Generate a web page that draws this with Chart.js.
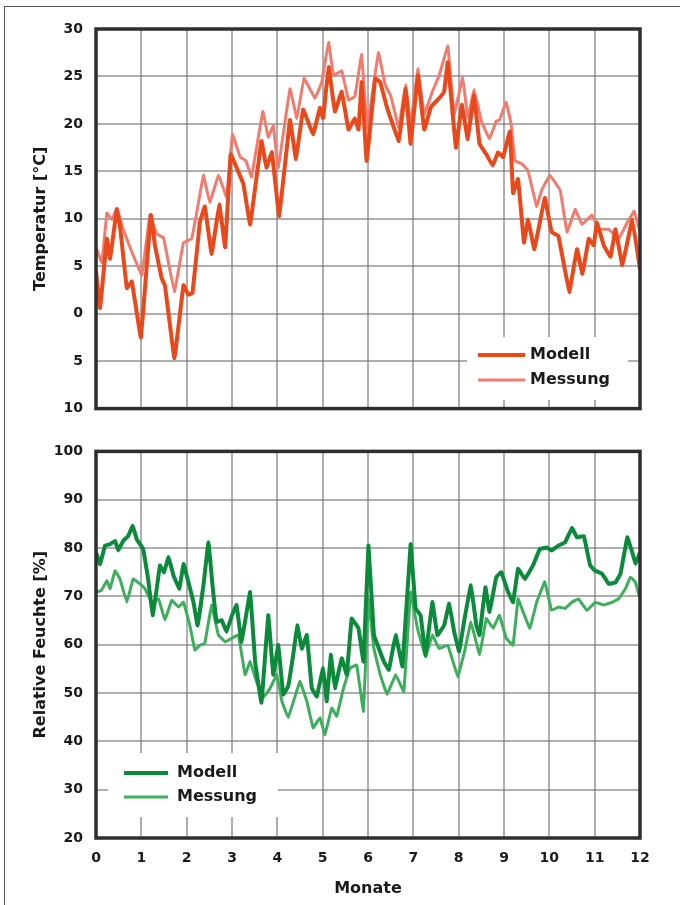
<!DOCTYPE html>
<html>
<head>
<meta charset="utf-8">
<script src="https://cdn.jsdelivr.net/npm/chart.js@4.4.1/dist/chart.umd.min.js"></script>
<style>
    html, body { margin: 0; padding: 0; background: #fff; }
    #page { position: relative; width: 680px; height: 905px; overflow: hidden; }
    #frame { position: absolute; left: 4px; top: 6px; right: -4px; bottom: -4px;
             border-top: 1.5px solid #555; border-left: 1.5px solid #555; }
    canvas { position: absolute; left: 0; }
    #tempChart { top: 0; }
    #humChart { top: 430px; }
</style>
</head>
<body>
<div id="page">
    <div id="frame"></div>
    <canvas id="tempChart" width="680" height="430"></canvas>
    <canvas id="humChart" width="680" height="475"></canvas>
</div>
<script>
// Temperatur - Modell
const tempModellMonths = [0, 0.09, 0.24, 0.31, 0.46, 0.53, 0.68, 0.79, 0.99, 1.21, 1.30, 1.45, 1.52, 1.73, 1.93, 2.04, 2.13, 2.29, 2.40, 2.55, 2.72, 2.85, 2.97, 3.10, 3.25, 3.40, 3.65, 3.76, 3.88, 4.04, 4.28, 4.41, 4.57, 4.79, 4.94, 5.01, 5.13, 5.27, 5.42, 5.57, 5.71, 5.79, 5.86, 5.97, 6.16, 6.27, 6.42, 6.68, 6.83, 6.94, 7.10, 7.24, 7.39, 7.57, 7.68, 7.76, 7.94, 8.07, 8.20, 8.34, 8.46, 8.61, 8.75, 8.87, 8.98, 9.13, 9.20, 9.31, 9.44, 9.53, 9.67, 9.90, 10.05, 10.20, 10.44, 10.61, 10.73, 10.87, 10.98, 11.05, 11.20, 11.35, 11.46, 11.61, 11.83, 12.0];
const tempModell = [4.5, 0.6, 7.9, 5.8, 11.0, 9.2, 2.7, 3.4, -2.5, 10.4, 7.2, 3.7, 3.0, -4.7, 3.0, 2.0, 2.2, 9.6, 11.3, 6.3, 11.5, 7.0, 16.8, 15.4, 13.7, 9.4, 18.2, 15.4, 17.0, 10.3, 20.4, 16.3, 21.5, 18.9, 21.7, 20.6, 26.0, 21.3, 23.4, 19.4, 20.6, 19.4, 24.4, 16.1, 24.8, 24.4, 21.7, 18.2, 23.7, 17.9, 25.1, 19.4, 21.8, 22.7, 23.4, 26.5, 17.5, 22.0, 18.4, 23.0, 17.9, 16.8, 15.6, 17.0, 16.5, 19.2, 12.7, 14.2, 7.5, 9.9, 6.8, 12.2, 8.6, 8.2, 2.3, 6.8, 4.2, 7.9, 7.2, 9.6, 7.2, 6.0, 8.9, 5.1, 9.9, 4.7];

// Temperatur - Messung
const tempMessungMonths = [0, 0.13, 0.24, 0.35, 0.46, 0.60, 0.79, 1.01, 1.19, 1.34, 1.49, 1.73, 1.93, 2.11, 2.22, 2.37, 2.51, 2.70, 2.88, 3.01, 3.18, 3.31, 3.43, 3.68, 3.80, 3.91, 4.02, 4.28, 4.43, 4.59, 4.83, 4.98, 5.13, 5.24, 5.42, 5.57, 5.71, 5.86, 5.98, 6.23, 6.38, 6.50, 6.68, 6.83, 6.94, 7.10, 7.24, 7.42, 7.57, 7.76, 7.90, 8.09, 8.20, 8.34, 8.50, 8.68, 8.83, 8.90, 9.05, 9.16, 9.24, 9.39, 9.53, 9.72, 9.83, 10.01, 10.24, 10.39, 10.57, 10.72, 10.94, 11.09, 11.31, 11.53, 11.72, 11.87, 12.0];
const tempMessung = [7.0, 5.4, 10.6, 9.9, 11.1, 8.9, 6.5, 4.1, 10.4, 8.4, 8.0, 2.3, 7.5, 7.9, 10.6, 14.6, 11.7, 14.6, 12.3, 18.9, 16.5, 16.1, 14.4, 21.3, 18.6, 19.8, 15.4, 23.7, 20.6, 24.8, 22.7, 24.4, 28.6, 25.1, 25.6, 22.5, 22.9, 27.3, 19.6, 27.5, 24.1, 23.0, 19.6, 24.1, 19.9, 25.8, 21.0, 23.4, 25.1, 28.2, 21.0, 24.9, 20.6, 23.6, 20.3, 18.4, 20.3, 20.4, 22.3, 19.9, 16.1, 15.8, 15.1, 11.3, 13.0, 14.6, 13.0, 8.6, 11.0, 9.4, 10.4, 8.9, 8.9, 7.9, 9.6, 10.8, 8.6];

// Relative Feuchte - Modell
const humModellMonths = [0, 0.09, 0.20, 0.31, 0.42, 0.49, 0.60, 0.71, 0.81, 0.90, 1.04, 1.15, 1.25, 1.34, 1.41, 1.50, 1.60, 1.71, 1.84, 1.93, 2.04, 2.15, 2.24, 2.37, 2.48, 2.57, 2.66, 2.77, 2.88, 2.99, 3.10, 3.21, 3.40, 3.51, 3.65, 3.80, 3.91, 4.02, 4.13, 4.24, 4.35, 4.44, 4.54, 4.65, 4.76, 4.87, 5.01, 5.09, 5.18, 5.27, 5.42, 5.53, 5.64, 5.79, 5.90, 6.01, 6.13, 6.24, 6.35, 6.46, 6.61, 6.76, 6.94, 7.05, 7.16, 7.27, 7.42, 7.53, 7.68, 7.79, 7.90, 8.01, 8.13, 8.27, 8.39, 8.46, 8.59, 8.68, 8.83, 8.94, 9.09, 9.20, 9.31, 9.46, 9.64, 9.79, 9.94, 10.05, 10.20, 10.35, 10.50, 10.61, 10.76, 10.90, 11.01, 11.16, 11.31, 11.46, 11.57, 11.72, 11.83, 11.90, 12.0];
const humModell = [79.1, 76.7, 80.5, 80.8, 81.5, 79.5, 81.5, 82.5, 84.6, 81.8, 79.8, 73.6, 66.1, 71.6, 76.4, 75.0, 78.1, 74.3, 71.6, 76.7, 72.9, 68.8, 64.0, 72.3, 81.2, 72.3, 64.7, 65.1, 62.7, 65.8, 68.2, 60.6, 70.9, 56.5, 48.0, 66.1, 53.8, 59.9, 49.7, 51.4, 57.9, 64.0, 59.2, 62.0, 51.0, 49.3, 55.1, 48.3, 57.9, 51.0, 57.2, 53.8, 65.4, 63.4, 56.5, 80.5, 62.0, 59.2, 56.5, 54.8, 62.0, 55.5, 80.8, 67.5, 66.1, 57.9, 68.8, 62.0, 64.0, 68.5, 62.7, 58.6, 65.4, 72.3, 64.0, 62.0, 71.9, 66.8, 74.0, 75.0, 70.9, 68.8, 75.7, 73.6, 76.4, 79.8, 80.1, 79.5, 80.5, 81.2, 84.2, 82.2, 82.5, 76.4, 75.3, 74.7, 72.6, 72.9, 74.7, 82.2, 79.1, 76.7, 79.1];

// Relative Feuchte - Messung
const humMessungMonths = [0, 0.12, 0.24, 0.31, 0.42, 0.53, 0.68, 0.82, 0.97, 1.08, 1.23, 1.38, 1.52, 1.67, 1.82, 1.93, 2.07, 2.18, 2.29, 2.40, 2.55, 2.70, 2.85, 2.99, 3.14, 3.29, 3.40, 3.54, 3.69, 3.84, 3.99, 4.10, 4.24, 4.39, 4.50, 4.65, 4.79, 4.94, 5.05, 5.20, 5.31, 5.46, 5.60, 5.75, 5.90, 6.01, 6.13, 6.27, 6.42, 6.61, 6.79, 6.94, 7.09, 7.27, 7.42, 7.57, 7.76, 7.98, 8.13, 8.27, 8.46, 8.61, 8.76, 8.90, 9.05, 9.20, 9.31, 9.42, 9.57, 9.72, 9.90, 10.05, 10.20, 10.35, 10.50, 10.64, 10.83, 11.01, 11.20, 11.39, 11.53, 11.68, 11.79, 11.90, 12.0];
const humMessung = [70.9, 71.2, 73.3, 71.6, 75.3, 73.6, 68.8, 73.6, 72.6, 71.6, 68.8, 69.5, 65.1, 69.2, 67.8, 68.8, 64.0, 58.9, 59.9, 60.3, 68.2, 62.0, 60.6, 61.3, 62.0, 53.8, 56.5, 52.4, 49.0, 51.0, 53.8, 48.3, 44.9, 49.3, 52.4, 48.3, 42.8, 44.9, 41.4, 46.9, 45.2, 51.0, 55.1, 55.8, 46.2, 69.5, 59.2, 53.8, 49.7, 53.8, 50.3, 70.9, 63.4, 57.5, 62.0, 59.2, 59.9, 53.4, 58.6, 64.7, 57.9, 65.4, 63.4, 66.1, 61.3, 59.9, 69.5, 66.8, 63.4, 68.8, 73.0, 67.1, 67.8, 67.5, 68.8, 69.5, 67.1, 68.8, 68.2, 68.8, 69.5, 71.6, 74.0, 72.9, 69.5];

// Tick labels (the original prints negative temperatures without a minus sign)
const tempTicks = [-10, -5, 0, 5, 10, 15, 20, 25, 30];
const tempTickLabels = ['10', '5', '0', '5', '10', '15', '20', '25', '30'];
const humTickLabels = ['20', '30', '40', '50', '60', '70', '80', '90', '100'];
const monthLabels = ['0', '1', '2', '3', '4', '5', '6', '7', '8', '9', '10', '11', '12'];

const seriesNames = ['Modell', 'Messung'];

Chart.defaults.font.family = '"DejaVu Sans", sans-serif';
Chart.defaults.font.weight = 'bold';
Chart.defaults.color = '#1a1a1a';

const toPoints = (xs, ys) => xs.map((x, i) => ({ x: x, y: ys[i] }));

const gridStyle = {
    color: 'rgba(110, 110, 110, 0.55)',
    lineWidth: 2,
    drawTicks: false
};

// Plot frame drawn over the grid
const framePlugin = {
    id: 'frame',
    afterDatasetsDraw(chart) {
        const { ctx, chartArea: a } = chart;
        ctx.save();
        ctx.strokeStyle = '#2e2e2e';
        ctx.lineWidth = 3.5;
        ctx.strokeRect(a.left, a.top, a.right - a.left, a.bottom - a.top);
        ctx.restore();
    }
};

// Legend inside the plot, on a white patch
const lineLegend = {
    id: 'lineLegend',
    afterDraw(chart, args, opts) {
        const ctx = chart.ctx;
        ctx.save();
        ctx.fillStyle = '#fff';
        ctx.fillRect(opts.box[0], opts.box[1], opts.box[2], opts.box[3]);
        chart.data.datasets.forEach((ds, i) => {
            const y = opts.y + i * opts.rowHeight;
            ctx.strokeStyle = ds.borderColor;
            ctx.lineWidth = ds.borderWidth;
            ctx.beginPath();
            ctx.moveTo(opts.x, y);
            ctx.lineTo(opts.x + opts.lineLength, y);
            ctx.stroke();
            ctx.fillStyle = '#1a1a1a';
            ctx.font = 'bold 16px "DejaVu Sans"';
            ctx.textBaseline = 'middle';
            ctx.fillText(ds.label, opts.x + opts.lineLength + opts.gap, y);
        });
        ctx.restore();
    }
};

function yTitle(text) {
    return {
        display: true,
        text: text,
        font: { size: 16, weight: 'bold' },
        padding: { top: 31, bottom: 0 }
    };
}

// Temperature chart
new Chart(document.getElementById('tempChart'), {
    type: 'line',
    data: {
        datasets: [
            {
                label: seriesNames[0],
                data: toPoints(tempModellMonths, tempModell),
                borderColor: '#E8481A',
                borderWidth: 4,
                pointRadius: 0,
                tension: 0.05
            },
            {
                label: seriesNames[1],
                data: toPoints(tempMessungMonths, tempMessung),
                borderColor: '#F07C70',
                borderWidth: 3,
                pointRadius: 0,
                tension: 0.05
            }
        ]
    },
    options: {
        responsive: false,
        animation: false,
        layout: { padding: { top: 29, right: 40, bottom: 13, left: 0 } },
        plugins: {
            legend: { display: false },
            tooltip: { enabled: false },
            lineLegend: { box: [467, 337, 161, 63], x: 478, y: 355, rowHeight: 25, lineLength: 47, gap: 5 }
        },
        scales: {
            x: {
                type: 'linear',
                min: 0,
                max: 12,
                ticks: { stepSize: 1, display: false },
                grid: gridStyle,
                border: { display: false },
                afterFit: s => { s.height = 0; }
            },
            y: {
                min: -10,
                max: 30,
                ticks: {
                    stepSize: 5,
                    padding: 13,
                    font: { size: 14, weight: 'bold' },
                    callback: v => tempTickLabels[tempTicks.indexOf(v)]
                },
                grid: gridStyle,
                border: { display: false },
                title: yTitle('Temperatur [°C]'),
                afterFit: s => { s.width = 96; }
            }
        }
    },
    plugins: [framePlugin, lineLegend]
});

// Humidity chart
new Chart(document.getElementById('humChart'), {
    type: 'line',
    data: {
        datasets: [
            {
                label: seriesNames[0],
                data: toPoints(humModellMonths, humModell),
                borderColor: '#0B8A3C',
                borderWidth: 4,
                pointRadius: 0,
                tension: 0.05
            },
            {
                label: seriesNames[1],
                data: toPoints(humMessungMonths, humMessung),
                borderColor: '#3CAE5C',
                borderWidth: 3,
                pointRadius: 0,
                tension: 0.05
            }
        ]
    },
    options: {
        responsive: false,
        animation: false,
        layout: { padding: { top: 19, right: 40, bottom: 0, left: 0 } },
        plugins: {
            legend: { display: false },
            tooltip: { enabled: false },
            lineLegend: { box: [108, 323, 170, 64], x: 124, y: 343, rowHeight: 24, lineLength: 44, gap: 9 }
        },
        scales: {
            x: {
                type: 'linear',
                min: 0,
                max: 12,
                ticks: {
                    stepSize: 1,
                    padding: 12,
                    maxRotation: 0,
                    font: { size: 14, weight: 'bold' },
                    callback: (v, i) => monthLabels[i]
                },
                grid: gridStyle,
                border: { display: false },
                title: {
                    display: true,
                    text: 'Monate',
                    font: { size: 16, weight: 'bold' },
                    padding: { top: 0, bottom: 7 }
                },
                afterFit: s => { s.height = 67; }
            },
            y: {
                min: 20,
                max: 100,
                ticks: {
                    stepSize: 10,
                    padding: 13,
                    font: { size: 14, weight: 'bold' },
                    callback: (v, i) => humTickLabels[i]
                },
                grid: gridStyle,
                border: { display: false },
                title: yTitle('Relative Feuchte [%]'),
                afterFit: s => { s.width = 96; }
            }
        }
    },
    plugins: [framePlugin, lineLegend]
});
</script>
</body>
</html>
